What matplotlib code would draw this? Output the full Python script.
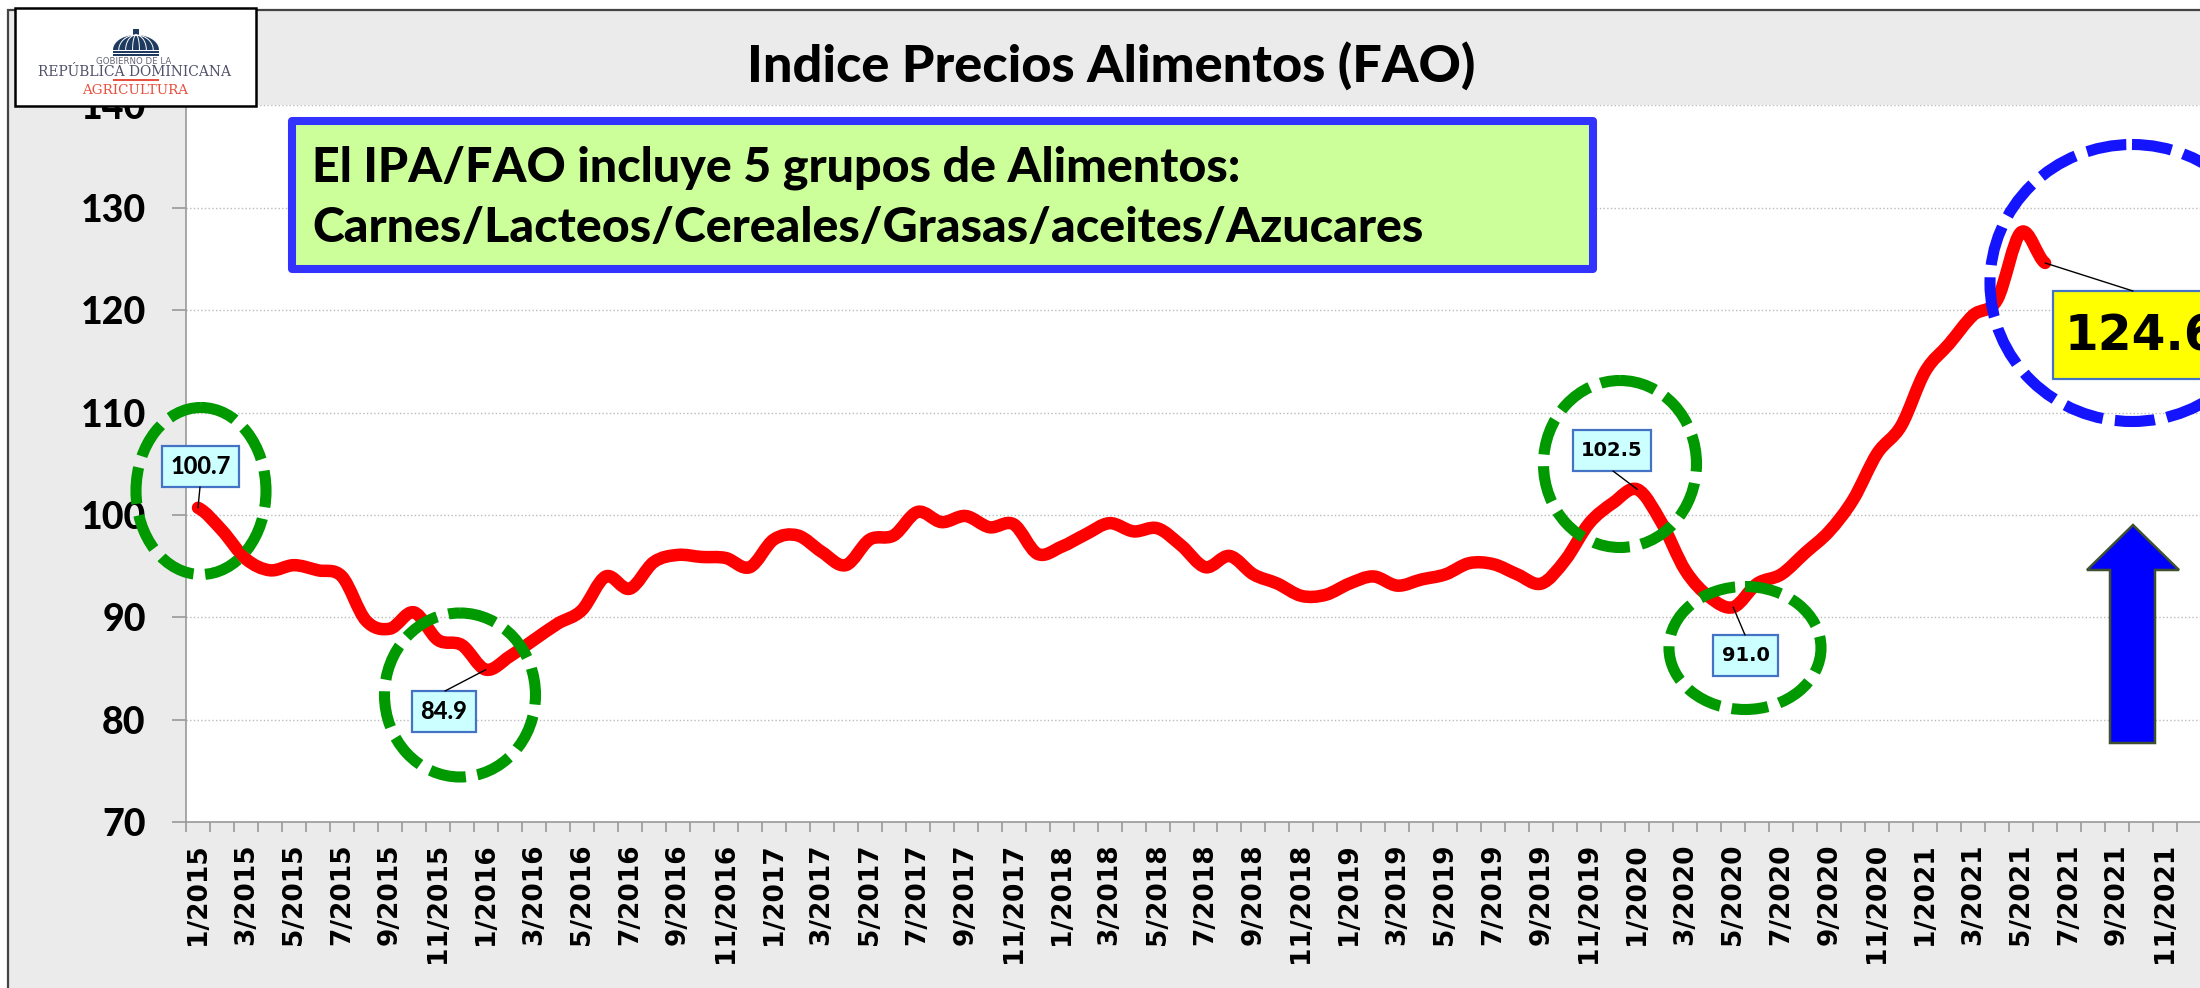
import numpy as np
import matplotlib
matplotlib.use('Agg')
import matplotlib.pyplot as plt
from matplotlib.path import Path
from matplotlib.patches import PathPatch, Rectangle, Ellipse, Polygon

# monthly index, 1/2015 to 6/2021
fao_2015 = [100.7, 98.5, 95.7, 94.6, 95.1, 94.6, 94.0, 89.7, 88.9, 90.5, 87.8, 87.3]
fao_2016 = [84.9, 86.2, 87.8, 89.4, 90.7, 94.0, 92.8, 95.4, 96.1, 95.9, 95.8, 94.9]
fao_2017 = [97.6, 98.0, 96.4, 95.1, 97.6, 98.0, 100.3, 99.3, 99.9, 98.8, 99.1, 96.2]
fao_2018 = [96.9, 98.1, 99.2, 98.4, 98.7, 97.0, 94.9, 96.0, 94.2, 93.3, 92.1, 92.2]
fao_2019 = [93.3, 94.0, 93.1, 93.7, 94.2, 95.3, 95.2, 94.2, 93.3, 95.6, 99.2, 101.2]
fao_2020 = [102.5, 99.3, 94.6, 92.0, 91.0, 93.3, 94.2, 96.3, 98.4, 101.5, 106.0, 108.7]
fao_2021 = [114.0, 116.7, 119.5, 121.0, 127.6, 124.6]
fao = fao_2015 + fao_2016 + fao_2017 + fao_2018 + fao_2019 + fao_2020 + fao_2021

years = [2015, 2016, 2017, 2018, 2019, 2020, 2021]
months = [str(m) + '/' + str(y) for y in years for m in range(1, 13)]
y_ticks = [70, 80, 90, 100, 110, 120, 130, 140]

title = 'Indice Precios Alimentos (FAO)'
note = 'El IPA/FAO incluye 5 grupos de Alimentos:\nCarnes/Lacteos/Cereales/Grasas/aceites/Azucares'

W, H = 2200, 988
fig = plt.figure(figsize=(W / 100, H / 100), dpi=100, facecolor='white')


def pixel_axes(zorder):
    a = fig.add_axes([0, 0, 1, 1], zorder=zorder)
    a.set_xlim(0, W)
    a.set_ylim(H, 0)
    a.axis('off')
    return a


back = pixel_axes(0)
back.add_patch(Rectangle((8, 10), W, H, fc='#ebebeb', ec='#444444', lw=1.6))

ax = fig.add_axes([186 / W, (H - 822.3) / H, 2015 / W, 717.1 / H], zorder=1)
ax.set_facecolor('white')
ax.set_xlim(-0.5, len(months) - 0.5)
ax.set_ylim(70, 140)

# smooth line like the spreadsheet one: bezier segments through the monthly values
x = np.arange(len(fao))
y = np.array(fao)
verts = [(x[0], y[0])]
codes = [Path.MOVETO]
for i in range(len(x) - 1):
    y0 = y[max(i - 1, 0)]
    y3 = y[min(i + 2, len(y) - 1)]
    verts += [(x[i] + 1 / 3, y[i] + (y[i + 1] - y0) / 6),
              (x[i + 1] - 1 / 3, y[i + 1] - (y3 - y[i]) / 6),
              (x[i + 1], y[i + 1])]
    codes += [Path.CURVE4, Path.CURVE4, Path.CURVE4]
ax.add_patch(PathPatch(Path(verts, codes), fc='none', ec='#ff0000', lw=9,
                       capstyle='round', joinstyle='round', zorder=3))

ax.set_yticks(y_ticks)
ax.set_yticklabels([str(v) for v in y_ticks], family='Lato', weight='black', fontsize=27)
ax.tick_params(axis='y', length=10, width=1.2, color='#999999', pad=19)
ax.grid(axis='y', color='#bbbbbb', lw=1, ls=':')
ax.set_axisbelow(True)

# labels sit between the ticks, so the marks are minor ticks on the month edges
ax.set_xticks(np.arange(0, len(months), 2))
ax.set_xticklabels(months[::2], rotation=90, family='DejaVu Sans', weight='bold', fontsize=19)
ax.set_xticks(np.arange(len(months) + 1) - 0.5, minor=True)
ax.tick_params(axis='x', which='major', length=0, pad=15)
ax.tick_params(axis='x', which='minor', length=7, width=1.2, color='#999999')
for s in ['top', 'right']:
    ax.spines[s].set_visible(False)
for s in ['left', 'bottom']:
    ax.spines[s].set_color('#999999')
    ax.spines[s].set_linewidth(1.2)

top = pixel_axes(2)
top.text(1111, 67, title, family='Lato', weight='black', fontsize=37.6, ha='center', va='center')

# note box
top.add_patch(Rectangle((292, 121), 1301, 148, fc='#ccff99', ec='#3333ff', lw=5.8, joinstyle='round'))
top.text(312, 198, note, family='Lato', weight='black', fontsize=34.8, va='center', linespacing=1.45)

# dashed rings
green_rings = [(201, 491, 130, 167), (460, 695, 151, 164), (1620, 464, 153, 167), (1745, 648, 152, 123)]
for cx, cy, w, h in green_rings:
    top.add_patch(Ellipse((cx, cy), w, h, fc='none', ec='#009900', lw=8, ls=(0, (3.3, 1.05))))
top.add_patch(Ellipse((2132, 283), 284, 277, fc='none', ec='#1414ff', lw=8, ls=(0, (3.6, 1.1))))

# arrow
top.add_patch(Polygon([(2133, 525), (2179, 570), (2155, 570), (2155, 743), (2110, 743), (2110, 570), (2087, 570)],
                      fc='#0000ff', ec='#3f5030', lw=1.8))

# callouts: value index, box left, top, right, bottom, where the leader leaves the box
callouts = [
    (0, '100.7', 162, 446, 239, 487, 200, 487, 'Lato', 17),
    (12, '84.9', 412, 691, 476, 732, 445, 691, 'Lato', 17),
    (60, '102.5', 1573, 430, 1651, 471, 1613, 471, 'DejaVu Sans', 14),
    (64, '91.0', 1713, 635, 1778, 676, 1745, 635, 'DejaVu Sans', 14),
]
for i, label, x0, y0_, x1, y1, lx, ly, fam, size in callouts:
    top.annotate('', xy=(x[i], fao[i]), xycoords=ax.transData, xytext=(lx, ly), textcoords=top.transData,
                 arrowprops=dict(arrowstyle='-', color='black', lw=1, shrinkA=0, shrinkB=0))
    top.add_patch(Rectangle((x0, y0_), x1 - x0, y1 - y0_, fc='#ccffff', ec='#4472c4', lw=1.6))
    top.text((x0 + x1) / 2, (y0_ + y1) / 2, label, family=fam, weight='black' if fam == 'Lato' else 'bold',
             fontsize=size, ha='center', va='center')

top.annotate('', xy=(x[-1], fao[-1]), xycoords=ax.transData, xytext=(2133, 291), textcoords=top.transData,
             arrowprops=dict(arrowstyle='-', color='black', lw=1, shrinkA=0, shrinkB=0))
top.add_patch(Rectangle((2053, 291), 158, 88, fc='#ffff00', ec='#4472c4', lw=1.6))
top.text(2065, 336, str(fao[-1]), family='DejaVu Sans', weight='bold', fontsize=35, va='center')

# logo block
logo = pixel_axes(3)
logo.add_patch(Rectangle((15, 8), 241, 98, fc='white', ec='black', lw=1.8))
t = np.linspace(0, np.pi, 40)
logo.add_patch(Polygon(np.column_stack([136 + 23 * np.cos(t), 50 - 15 * np.sin(t)]), fc='#1f3a5f', ec='none'))
for k in [-0.75, -0.45, -0.15, 0.15, 0.45, 0.75]:
    s = np.linspace(0, np.pi / 2, 12)
    logo.plot(136 + 23 * k * np.cos(s), 50 - 15 * np.sin(s), color='white', lw=0.7)
logo.add_patch(Rectangle((133, 29), 6, 7, fc='#1f3a5f', ec='none'))
logo.add_patch(Rectangle((113, 51), 46, 2, fc='#1f3a5f', ec='none'))
logo.add_patch(Rectangle((113, 54), 46, 1.6, fc='#1f3a5f', ec='none'))
logo.text(134, 62, 'GOBIERNO DE LA', family='DejaVu Sans', fontsize=6.2, color='#666677', ha='center', va='center')
logo.text(134, 72, 'REPÚBLICA DOMINICANA', family='DejaVu Serif', fontsize=10, color='#50506a', ha='center', va='center')
logo.add_patch(Rectangle((113, 79.3), 46, 1.6, fc='#e8503f', ec='none'))
logo.text(135, 91, 'AGRICULTURA', family='DejaVu Serif', fontsize=9.7, color='#e8503f', ha='center', va='center')

fig.savefig('out.png', dpi=100)
